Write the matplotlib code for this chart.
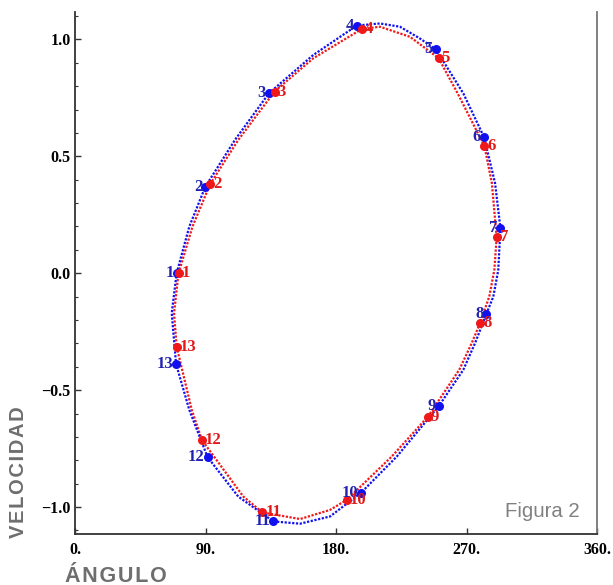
import matplotlib
matplotlib.use("Agg")
import matplotlib.pyplot as plt
from matplotlib.ticker import MultipleLocator, FixedLocator

# ---- data ----
labels = [str(i) for i in range(1, 14)]

blue_x = [70.1, 89.9, 133.8, 194.3, 248.9, 282.1, 293.4, 283.7, 251.0, 197.2, 136.8, 91.4, 69.7]
blue_y = [0.0, 0.370, 0.770, 1.059, 0.957, 0.582, 0.192, -0.174, -0.567, -0.939, -1.061, -0.786, -0.388]

red_x = [71.4, 93.1, 137.6, 197.7, 250.7, 282.4, 290.8, 279.3, 243.3, 187.4, 129.3, 87.6, 70.1]
red_y = [0.0, 0.380, 0.777, 1.044, 0.920, 0.543, 0.153, -0.214, -0.614, -0.969, -1.023, -0.714, -0.314]

blue_curve_x = [70.1, 78.8, 89.9, 110.3, 133.8, 164.3, 194.3, 210.3, 224.1, 237.8, 248.9, 267.8,
                282.1, 289.7, 293.4, 291.9, 288.5, 283.7, 275.9, 267.8, 251.0, 221.9, 197.2,
                175.9, 155.2, 136.8, 112.6, 91.4, 78.8, 69.7, 66.7, 70.1]
blue_curve_y = [0.0, 0.199, 0.370, 0.570, 0.770, 0.933, 1.059, 1.068, 1.054, 1.004, 0.957, 0.769,
                0.582, 0.385, 0.192, 0.014, -0.100, -0.174, -0.299, -0.413, -0.567, -0.784, -0.939,
                -1.040, -1.071, -1.061, -0.955, -0.786, -0.584, -0.388, -0.171, 0.0]

red_curve_x = [71.4, 81.0, 93.1, 112.6, 137.6, 164.3, 197.7, 210.3, 231.0, 250.7, 263.9, 282.4,
               287.5, 290.8, 289.2, 285.7, 279.3, 273.6, 265.0, 243.3, 218.4, 187.4, 175.9,
               155.2, 129.3, 116.1, 87.6, 80.5, 70.1, 68.3, 71.4]
red_curve_y = [0.0, 0.199, 0.380, 0.570, 0.777, 0.919, 1.044, 1.054, 1.011, 0.920, 0.769, 0.543,
               0.385, 0.153, 0.014, -0.100, -0.214, -0.299, -0.413, -0.614, -0.784, -0.969, -1.012,
               -1.051, -1.023, -0.955, -0.714, -0.584, -0.314, -0.171, 0.0]

x_ticks = [0, 90, 180, 270, 360]
x_tick_labels = ["0.", "90.", "180.", "270.", "360."]
y_ticks = [-1.0, -0.5, 0.0, 0.5, 1.0]
y_tick_labels = ["\u22121.0", "\u22120.5", "0.0", "0.5", "1.0"]

# ---- figure ----
W, H = 613, 585
fig = plt.figure(figsize=(W / 100, H / 100), dpi=100)
ax = fig.add_axes([75 / W, 51 / H, (597 - 75) / W, (534 - 12) / H])

BLUE = "#1010f0"
RED = "#f01818"
BLUE_TXT = "#2222b0"
RED_TXT = "#e01a1a"

ax.plot(red_curve_x, red_curve_y, color=RED, lw=1.6, ls=(0, (1, 0.7)), zorder=2)
ax.plot(blue_curve_x, blue_curve_y, color=BLUE, lw=1.6, ls=(0, (1, 0.7)), zorder=2)

ax.plot(blue_x, blue_y, "o", color=BLUE, ms=6.5, mec="none", zorder=4)
ax.plot(red_x, red_y, "o", color=RED, ms=6.5, mec="none", zorder=4)

serif = ["Liberation Serif", "DejaVu Serif"]
for lab, x, y in zip(labels, blue_x, blue_y):
    ax.annotate(lab, (x, y), xytext=(-2.2, 0), textcoords="offset points",
                ha="right", va="center", color=BLUE_TXT, fontsize=12,
                fontweight="bold", family=serif, zorder=5)
for lab, x, y in zip(labels, red_x, red_y):
    ax.annotate(lab, (x, y), xytext=(2.2, 0), textcoords="offset points",
                ha="left", va="center", color=RED_TXT, fontsize=12,
                fontweight="bold", family=serif, zorder=5)

ax.set_xlim(0, 360)
ax.set_ylim(-1.115, 1.117)

ax.xaxis.set_major_locator(FixedLocator(x_ticks))
ax.set_xticklabels(x_tick_labels)
ax.yaxis.set_major_locator(FixedLocator(y_ticks))
ax.set_yticklabels(y_tick_labels)
ax.yaxis.set_minor_locator(MultipleLocator(0.1))

for t in ax.get_xticklabels() + ax.get_yticklabels():
    t.set_family(serif)
    t.set_fontweight("bold")
    t.set_fontsize(11.5)
    t.set_color("black")

ax.tick_params(axis="both", which="major", direction="in", length=4, width=1.0,
               color="#333333")
ax.tick_params(axis="y", which="minor", direction="in", length=2.5, width=0.8,
               color="#333333")
ax.tick_params(axis="y", pad=3)
ax.tick_params(axis="x", pad=6)
ax.tick_params(top=False, right=False)

ax.spines["top"].set_visible(False)
ax.spines["left"].set_color("#333333")
ax.spines["left"].set_linewidth(1.3)
ax.spines["bottom"].set_color("#333333")
ax.spines["bottom"].set_linewidth(1.3)
ax.spines["right"].set_color("#777777")
ax.spines["right"].set_linewidth(1.3)

sans = ["Liberation Sans", "DejaVu Sans"]
fig.text(580 / W, (H - 516.7) / H, "Figura 2", ha="right", va="baseline",
         color="#808080", fontsize=14.7, family=sans)

hair = "\u200a"
fig.text(18.5 / W, (H - 472.5) / H, hair.join("VELOCIDAD"), rotation=90,
         ha="center", va="center", color="#6e6e6e", fontsize=14.5,
         fontweight="bold", family=sans)
fig.text(65 / W, (H - 581.5) / H, hair.join("ÁNGULO"), ha="left", va="baseline",
         color="#6e6e6e", fontsize=15.5, fontweight="bold", family=sans)

fig.savefig("out.png", dpi=100)
